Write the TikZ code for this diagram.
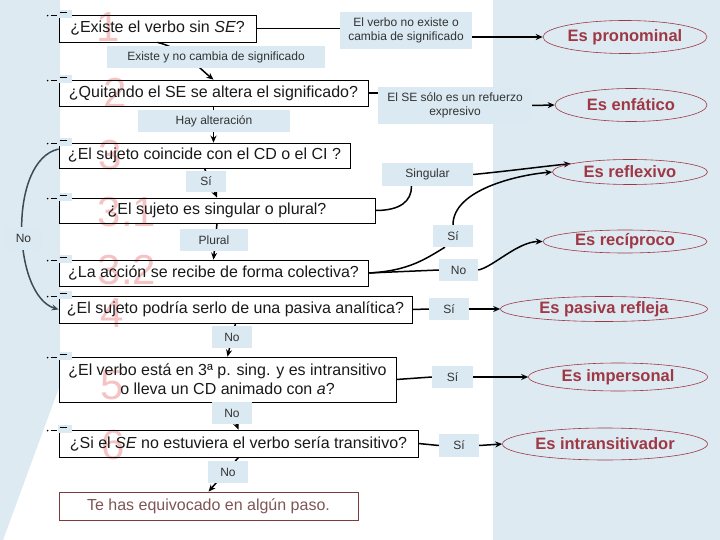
\documentclass[tikz,border=0pt]{standalone}
\usepackage{fontspec}
\setmainfont{Liberation Sans}
\usetikzlibrary{arrows.meta,shapes.geometric,calc}
\pgfdeclarelayer{bg}
\pgfdeclarelayer{conn}
\pgfsetlayers{bg,conn,main}
\definecolor{panel}{RGB}{221,234,242}
\definecolor{lblc}{RGB}{218,233,242}
\definecolor{ered}{RGB}{158,56,68}
\definecolor{wm}{RGB}{245,195,195}
\definecolor{nocol}{RGB}{60,75,85}
\definecolor{finred}{RGB}{125,60,60}
\definecolor{fintext}{RGB}{125,85,85}
\begin{document}
\begin{tikzpicture}[x=1pt,y=-1pt,
  box/.style={draw=black,line width=0.8pt,inner sep=0pt,font=\fontsize{16}{19}\selectfont,text=black!90,align=center},
  lbl/.style={fill=lblc,inner sep=0pt,font=\fontsize{12}{14}\selectfont,text=black!80,align=center},
  res/.style={ellipse,draw=ered,line width=0.6pt,inner sep=0pt,font=\fontsize{16.5}{18}\selectfont\bfseries,text=ered},
  conn/.style={line width=1.5pt,black},
  arr/.style={conn,-{Stealth[length=7pt,width=6pt]}},
  wmk/.style={font=\fontsize{42}{42}\selectfont,text=wm}
]
\useasboundingbox (0,0) rectangle (720,540);
\begin{pgfonlayer}{bg}
  \fill[panel] (493,0) rectangle (720,540);
  \fill[panel] (0,0) -- (60,0) -- (60,385) -- (3,540) -- (0,540) -- cycle;
  \node[wmk] (w1) at (108,27) {1};
  \node[wmk] (w2) at (115,93) {2};
  \node[wmk] (w3) at (110,155) {3};
  \node[wmk] (w31) at (127,212) {3.1};
  \node[wmk] (w32) at (127,270) {3.2};
  \node[wmk] (w4) at (112,313) {4};
  \node[wmk] (w5) at (112,385) {5};
  \node[wmk] (w6) at (113,445) {6};
\end{pgfonlayer}

% question boxes
\node[box,minimum width=197pt,minimum height=27pt] (b1) at (157.5,28.5) {¿Existe el verbo sin \textit{SE}?};
\node[box,minimum width=309pt,minimum height=26pt] (b2) at (213.5,93) {¿Quitando el SE se altera el significado?};
\node[box,minimum width=291pt,minimum height=25pt] (b3) at (204.5,155.5) {¿El sujeto coincide con el CD o el CI ?};
\node[box,minimum width=316pt,minimum height=25pt] (b31) at (217,210.5) {¿El sujeto es singular o plural?};
\node[box,minimum width=309pt,minimum height=26pt] (b32) at (213.5,273) {¿La acción se recibe de forma colectiva?};
\node[box,minimum width=353pt,minimum height=27pt] (b4) at (235.5,309.5) {¿El sujeto podría serlo de una pasiva analítica?};
\node[box,minimum width=337pt,minimum height=45pt] (b5) at (227.5,379.5) {¿El verbo está en 3ª p. sing. y es intransitivo\\o lleva un CD animado con \textit{a}?};
\node[box,minimum width=359pt,minimum height=27pt] (b6) at (238.5,443.5) {¿Si el \textit{SE} no estuviera el verbo sería transitivo?};
\node[box,draw=finred,text=fintext,minimum width=299pt,minimum height=28pt] (fin) at (208.5,506) {Te has equivocado en algún paso.};

% labels
\node[lbl,minimum width=132pt,minimum height=37pt] (lp) at (406,30.5) {El verbo no existe o\\cambia de significado};
\node[lbl,minimum width=218pt,minimum height=22pt] (l1) at (216,57) {Existe y no cambia de significado};
\node[lbl,minimum width=154pt,minimum height=37pt] (lenf) at (455,105.5) {El SE sólo es un refuerzo\\expresivo};
\node[lbl,minimum width=152pt,minimum height=22pt] (lhay) at (214,121) {Hay alteración};
\node[lbl,minimum width=40pt,minimum height=21pt] (lsi3) at (206,181.5) {Sí};
\node[lbl,minimum width=91pt,minimum height=23pt] (lsing) at (427.5,174.5) {Singular};
\node[lbl,minimum width=68pt,minimum height=22pt] (lplural) at (214,240) {Plural};
\node[lbl,minimum width=37pt,minimum height=23pt] (lno3) at (23.5,238.5) {No};
\node[lbl,minimum width=40pt,minimum height=22pt] (lsi32) at (453,236) {Sí};
\node[lbl,minimum width=39pt,minimum height=22pt] (lno32) at (458.5,270) {No};
\node[lbl,minimum width=40pt,minimum height=22pt] (lsi4) at (449,309) {Sí};
\node[lbl,minimum width=40pt,minimum height=22pt] (lno4) at (232,337) {No};
\node[lbl,minimum width=41pt,minimum height=22pt] (lsi5) at (452.5,377) {Sí};
\node[lbl,minimum width=40pt,minimum height=22pt] (lno5) at (232,413) {No};
\node[lbl,minimum width=40pt,minimum height=23pt] (lsi6) at (459,445.5) {Sí};
\node[lbl,minimum width=40pt,minimum height=22pt] (lno6) at (228,472) {No};

% results
\node[res,minimum width=164pt,minimum height=33pt] (e1) at (625,37) {Es pronominal};
\node[res,minimum width=152pt,minimum height=33pt] (e2) at (631,105) {Es enfático};
\node[res,minimum width=155pt,minimum height=25pt] (e3) at (630,172) {Es reflexivo};
\node[res,minimum width=164pt,minimum height=23pt] (e4) at (625,241.5) {Es recíproco};
\node[res,minimum width=207pt,minimum height=25pt] (e5) at (604,309) {Es pasiva refleja};
\node[res,minimum width=179pt,minimum height=28pt] (e6) at (618,377) {Es impersonal};
\node[res,minimum width=205pt,minimum height=32pt] (e7) at (605,444) {Es intransitivador};

% small slide icons
\foreach \b in {b1,b2,b3,b31,b32,b4,b5,b6}{
  \fill[lblc] ($(\b.north west)+(-1,-5)$) rectangle ++(14,8);
  \draw[line width=1.3pt] ($(\b.north west)+(1,-2)$) -- ++(7,0);
  \fill ($(\b.north west)+(-11,1)$) circle (0.9pt);
  \draw[line width=1.2pt] ($(\b.north west)+(-8,1)$) -- ++(6,0);
}

\begin{pgfonlayer}{conn}
  \draw[arr] (b1.south) .. controls +(25,6) and +(-15,-12) .. (b2.north);
  \draw[conn] (b1.east) -- (b1.east -| lp.west);
  \draw[arr] (lp.east |- e1.west) -- (e1.west);
  \draw[conn] (b2.east) -- (b2.east -| lenf.west);
  \draw[arr] (lenf.east) -- (e2.west);
  \draw[arr] (b2.south) -- (b2.south |- b3.north);
  \draw[arr] (b3.south) -- (b31.north);
  \draw[conn] (b31.east) .. controls +(25,0) and +(0,15) .. ($(lsing.south)+(-16,0)$);
  \draw[arr] (lsing.east) .. controls +(40,-4) and +(-30,3) .. (e3.172);
  \draw[arr] (b31.south) -- (b32.north);
  \draw[arr] (lsi32.north) .. controls +(0,-35) and +(-35,3) .. (e3.west);
  \draw[conn] (b32.east) .. controls +(40,-2) and +(-20,12) .. ($(lsi32.south)+(-8,0)$);
  \draw[conn] (b32.east) -- (lno32.west);
  \draw[arr] (lno32.east) .. controls +(15,-3) and +(-25,0) .. (e4.west);
  \draw[conn] (b4.east) -- (lsi4.west);
  \draw[arr] (lsi4.east) -- (e5.west);
  \draw[arr] (b4.south) -- (b5.north);
  \draw[conn] (b5.east) -- (lsi5.west);
  \draw[arr] (lsi5.east) -- (e6.west);
  \draw[arr] (b5.south) -- (b6.north);
  \draw[conn] (b6.east) -- (lsi6.west);
  \draw[arr] (lsi6.east) -- (e7.west);
  \draw[arr] (b6.south) -- (fin.north);
  \draw[arr,nocol] ($(b3.north west)!0.25!(b3.south west)$) .. controls (8,160) and (12,295) .. (b4.west);
\end{pgfonlayer}
\end{tikzpicture}
\end{document}
